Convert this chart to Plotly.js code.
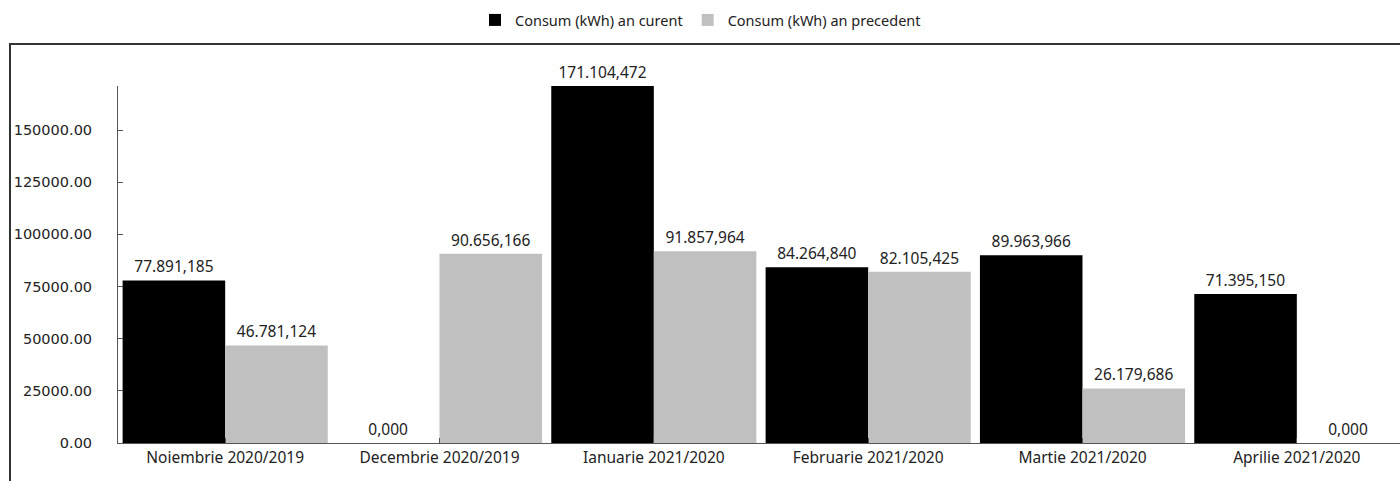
<!DOCTYPE html>
<html>
<head>
<meta charset="utf-8">
<script src="https://cdn.plot.ly/plotly-3.0.1.min.js"></script>
<style>
html,body{margin:0;padding:0;overflow:hidden;background:#fff;}
#chart{width:1404px;height:481px;}
</style>
</head>
<body>
<div id="chart"></div>
<script>
var categories = ["Noiembrie 2020/2019", "Decembrie 2020/2019", "Ianuarie 2021/2020", "Februarie 2021/2020", "Martie 2021/2020", "Aprilie 2021/2020"];
var seriesNames = ["Consum (kWh) an curent", "Consum (kWh) an precedent"];
var currentYear = [77891.185, 0, 171104.472, 84264.840, 89963.966, 71395.150];
var previousYear = [46781.124, 90656.166, 91857.964, 82105.425, 26179.686, 0];
var yTickValues = [0, 25000, 50000, 75000, 100000, 125000, 150000];

function fmtRo(v) {
  var parts = v.toFixed(3).split(".");
  var intPart = parts[0].replace(/\B(?=(\d{3})+(?!\d))/g, ".");
  return intPart + "," + parts[1];
}

var maxVal = Math.max.apply(null, currentYear.concat(previousYear));

var textFont = {family: "Noto Sans", size: 15.5, color: "#222"};

var traces = [
  {
    type: "bar", name: seriesNames[0], x: categories, y: currentYear,
    marker: {color: "#000000"},
    text: currentYear.map(fmtRo), textposition: "outside", textfont: textFont,
    cliponaxis: false, hoverinfo: "x+y"
  },
  {
    type: "bar", name: seriesNames[1], x: categories, y: previousYear,
    marker: {color: "#c0c0c0"},
    text: previousYear.map(fmtRo), textposition: "outside", textfont: textFont,
    cliponaxis: false, hoverinfo: "x+y"
  }
];

var layout = {
  width: 1404, height: 481,
  margin: {l: 118, r: 0, t: 86, b: 38, pad: 0},
  paper_bgcolor: "#ffffff", plot_bgcolor: "#ffffff",
  barmode: "group", bargap: 0.043, bargroupgap: 0,
  showlegend: true,
  legend: {
    orientation: "h", xref: "container", yref: "container",
    x: 475 / 1404, xanchor: "left", y: 1 - 4 / 481, yanchor: "top",
    font: {family: "Noto Sans", size: 14.5, color: "#222"},
    itemwidth: 30, traceorder: "normal"
  },
  xaxis: {
    type: "category", showline: true, linecolor: "#555", linewidth: 1,
    ticks: "inside", ticklen: 5, tickcolor: "#555",
    tickfont: {family: "Noto Sans", size: 15.5, color: "#222"},
    showgrid: false, zeroline: false, fixedrange: true
  },
  yaxis: {
    range: [0, maxVal], showline: true, linecolor: "#555", linewidth: 1,
    ticks: "inside", ticklen: 5, tickcolor: "#555",
    tickmode: "array", tickvals: yTickValues,
    ticktext: yTickValues.map(function (v) { return v.toFixed(2); }),
    ticklabelstandoff: 22,
    tickfont: {family: "DejaVu Sans", size: 14.5, color: "#222"},
    showgrid: false, zeroline: false, fixedrange: true
  },
  shapes: [
    {
      type: "rect", xref: "paper", yref: "paper",
      x0: (10 - 118) / 1286, x1: 1.2, y0: -0.3, y1: (443 - 44) / 357,
      line: {color: "#333", width: 2}, fillcolor: "rgba(0,0,0,0)", layer: "below"
    }
  ]
};

Plotly.newPlot("chart", traces, layout, {displayModeBar: false, staticPlot: true});
</script>
</body>
</html>
